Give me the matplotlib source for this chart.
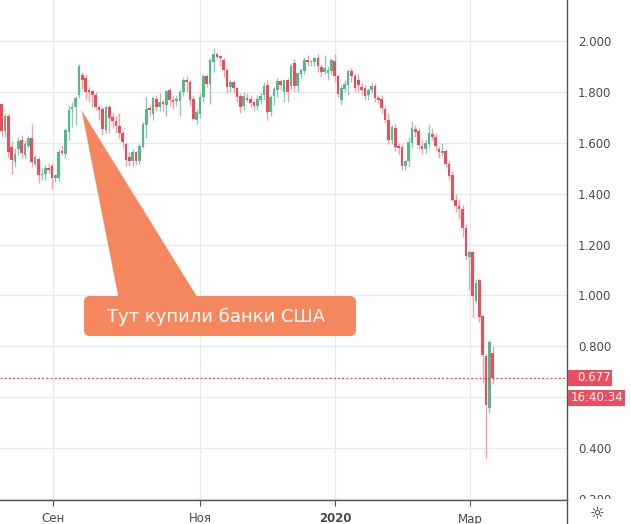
import matplotlib
matplotlib.use("Agg")
import matplotlib.pyplot as plt
from matplotlib.patches import Rectangle, FancyBboxPatch, Polygon
from matplotlib.lines import Line2D
from matplotlib.transforms import Affine2D, Bbox, TransformedBbox
import numpy as np

# daily candles, Aug 2019 - Mar 2020
opens = [1.752, 1.646, 1.705, 1.584, 1.525, 1.576, 1.611, 1.552, 1.587, 1.619,
         1.517, 1.536, 1.473, 1.477, 1.500, 1.510, 1.463, 1.463, 1.567, 1.555,
         1.644, 1.735, 1.742, 1.788, 1.867, 1.856, 1.807, 1.803, 1.790, 1.742,
         1.735, 1.650, 1.742, 1.703, 1.688, 1.668, 1.638, 1.597, 1.544, 1.529,
         1.564, 1.529, 1.585, 1.670, 1.738, 1.713, 1.775, 1.742, 1.761, 1.748,
         1.807, 1.771, 1.765, 1.765, 1.801, 1.849, 1.840, 1.775, 1.690, 1.716,
         1.781, 1.862, 1.834, 1.919, 1.949, 1.941, 1.925, 1.889, 1.820, 1.842,
         1.818, 1.787, 1.744, 1.779, 1.775, 1.761, 1.744, 1.771, 1.788, 1.827,
         1.722, 1.784, 1.808, 1.844, 1.801, 1.847, 1.823, 1.915, 1.823, 1.870,
         1.883, 1.925, 1.919, 1.919, 1.936, 1.899, 1.879, 1.875, 1.883, 1.922,
         1.862, 1.771, 1.814, 1.827, 1.883, 1.862, 1.849, 1.820, 1.818, 1.788,
         1.807, 1.823, 1.777, 1.775, 1.735, 1.692, 1.613, 1.661, 1.584, 1.584,
         1.509, 1.528, 1.600, 1.657, 1.646, 1.588, 1.575, 1.596, 1.634, 1.624,
         1.578, 1.561, 1.567, 1.516, 1.473, 1.375, 1.351, 1.342, 1.264, 1.153,
         1.171, 0.980, 1.061, 0.919, 0.763, 0.557, 0.773]
highs = [1.758, 1.717, 1.715, 1.607, 1.580, 1.623, 1.630, 1.611, 1.627, 1.674,
         1.552, 1.544, 1.501, 1.513, 1.520, 1.520, 1.480, 1.575, 1.592, 1.660,
         1.750, 1.761, 1.785, 1.912, 1.879, 1.870, 1.820, 1.810, 1.800, 1.750,
         1.745, 1.750, 1.750, 1.720, 1.705, 1.720, 1.650, 1.605, 1.566, 1.578,
         1.570, 1.595, 1.682, 1.780, 1.750, 1.787, 1.790, 1.795, 1.771, 1.810,
         1.815, 1.785, 1.790, 1.810, 1.860, 1.865, 1.850, 1.790, 1.735, 1.795,
         1.870, 1.870, 1.935, 1.975, 1.958, 1.948, 1.935, 1.895, 1.848, 1.850,
         1.822, 1.795, 1.800, 1.795, 1.790, 1.770, 1.790, 1.800, 1.840, 1.850,
         1.790, 1.820, 1.855, 1.850, 1.850, 1.855, 1.910, 1.930, 1.880, 1.895,
         1.940, 1.945, 1.928, 1.940, 1.950, 1.910, 1.945, 1.905, 1.935, 1.950,
         1.870, 1.830, 1.850, 1.890, 1.895, 1.875, 1.870, 1.840, 1.830, 1.815,
         1.840, 1.835, 1.790, 1.790, 1.745, 1.720, 1.670, 1.675, 1.600, 1.595,
         1.535, 1.625, 1.685, 1.670, 1.660, 1.615, 1.615, 1.675, 1.660, 1.640,
         1.590, 1.600, 1.575, 1.530, 1.490, 1.400, 1.380, 1.355, 1.280, 1.180,
         1.175, 1.065, 1.065, 0.925, 0.770, 0.825, 0.800]
lows = [1.623, 1.623, 1.544, 1.477, 1.505, 1.552, 1.540, 1.540, 1.580, 1.505,
        1.509, 1.442, 1.454, 1.454, 1.481, 1.421, 1.445, 1.450, 1.553, 1.540,
        1.610, 1.663, 1.670, 1.777, 1.814, 1.775, 1.760, 1.740, 1.730, 1.690,
        1.630, 1.640, 1.640, 1.660, 1.640, 1.620, 1.580, 1.510, 1.510, 1.510,
        1.515, 1.518, 1.580, 1.620, 1.705, 1.690, 1.725, 1.725, 1.725, 1.705,
        1.745, 1.735, 1.745, 1.705, 1.785, 1.800, 1.745, 1.690, 1.675, 1.700,
        1.760, 1.820, 1.755, 1.880, 1.930, 1.905, 1.860, 1.795, 1.800, 1.795,
        1.760, 1.720, 1.730, 1.760, 1.740, 1.725, 1.730, 1.755, 1.770, 1.690,
        1.705, 1.750, 1.780, 1.810, 1.760, 1.760, 1.810, 1.800, 1.800, 1.855,
        1.870, 1.905, 1.905, 1.905, 1.880, 1.860, 1.870, 1.850, 1.870, 1.840,
        1.780, 1.750, 1.800, 1.790, 1.840, 1.800, 1.800, 1.790, 1.770, 1.770,
        1.795, 1.760, 1.755, 1.720, 1.680, 1.595, 1.595, 1.570, 1.555, 1.495,
        1.495, 1.510, 1.580, 1.625, 1.575, 1.555, 1.560, 1.580, 1.610, 1.570,
        1.540, 1.550, 1.500, 1.455, 1.370, 1.330, 1.300, 1.230, 1.140, 1.020,
        0.917, 0.970, 0.897, 0.655, 0.360, 0.537, 0.650]
closes = [1.646, 1.705, 1.563, 1.532, 1.556, 1.607, 1.560, 1.595, 1.619, 1.525,
          1.544, 1.473, 1.480, 1.502, 1.493, 1.463, 1.473, 1.565, 1.562, 1.650,
          1.729, 1.742, 1.777, 1.902, 1.847, 1.801, 1.801, 1.790, 1.742, 1.729,
          1.654, 1.742, 1.697, 1.686, 1.666, 1.638, 1.605, 1.532, 1.529, 1.564,
          1.529, 1.587, 1.676, 1.735, 1.729, 1.779, 1.742, 1.761, 1.755, 1.804,
          1.768, 1.761, 1.772, 1.801, 1.847, 1.840, 1.768, 1.696, 1.722, 1.781,
          1.862, 1.834, 1.925, 1.949, 1.938, 1.936, 1.889, 1.820, 1.840, 1.816,
          1.781, 1.742, 1.784, 1.771, 1.757, 1.744, 1.775, 1.784, 1.823, 1.722,
          1.781, 1.814, 1.844, 1.827, 1.847, 1.801, 1.903, 1.823, 1.875, 1.888,
          1.925, 1.919, 1.922, 1.936, 1.902, 1.879, 1.896, 1.888, 1.925, 1.862,
          1.794, 1.818, 1.834, 1.883, 1.862, 1.818, 1.828, 1.807, 1.784, 1.810,
          1.823, 1.779, 1.771, 1.739, 1.692, 1.613, 1.663, 1.584, 1.582, 1.509,
          1.528, 1.606, 1.659, 1.643, 1.591, 1.575, 1.600, 1.640, 1.624, 1.588,
          1.565, 1.568, 1.519, 1.470, 1.375, 1.351, 1.342, 1.264, 1.155, 1.173,
          0.998, 1.051, 0.917, 0.767, 0.567, 0.815, 0.677]

month_ticks = [15.3, 59.0, 99.2, 139.2]
month_labels = ["Сен", "Ноя", "2020", "Мар"]
price_ticks = [0.2, 0.4, 0.6, 0.8, 1.0, 1.2, 1.4, 1.6, 1.8, 2.0]
# 0.600 sits under the countdown tag, so it is not shown
price_labels = ["0.200", "0.400", "", "0.800", "1.000", "1.200", "1.400", "1.600", "1.800", "2.000"]
last_price = 0.677
countdown = "16:40:34"
note = "Тут купили банки США"

UP, DOWN = "#53b987", "#eb4d5c"
UP_WICK, DOWN_WICK = "#93c3c6", "#f3a0a9"
W, H = 631, 524

fig = plt.figure(figsize=(W / 100, H / 100), dpi=100)
ax = fig.add_axes([0, 24 / H, 567 / W, 1 - 24 / H])

o = np.array(opens)
c = np.array(closes)
x = np.arange(len(o))
up = c >= o
body_lo = np.minimum(o, c)
body_h = np.maximum(np.abs(c - o), 0.005)

ax.vlines(x, lows, highs, colors=np.where(up, UP_WICK, DOWN_WICK), linewidth=1, zorder=2)
ax.bar(x, body_h, bottom=body_lo, width=0.78, color=np.where(up, UP, DOWN),
       linewidth=0, zorder=3)

ax.axhline(last_price, color=DOWN, lw=1, ls=(0, (1.5, 1.5)), zorder=4)

ax.set_xlim(-0.45, 168.05)
ax.set_ylim(0.195, 2.163)
ax.set_xticks(month_ticks, month_labels)
ax.set_yticks(price_ticks, price_labels)
ax.grid(True, color="#e3ebf0", lw=1, zorder=0)
ax.set_axisbelow(True)

ax.yaxis.tick_right()
ax.tick_params(axis="y", length=0, pad=8, labelsize=8.5, labelcolor="#4a4a4a")
ax.tick_params(axis="x", length=4, color="#50535e", pad=5, labelsize=8.5, labelcolor="#4a4a4a")
ax.get_xticklabels()[2].set_fontweight("bold")

for s in ["top", "left"]:
    ax.spines[s].set_visible(False)
for s in ["right", "bottom"]:
    ax.spines[s].set_color("#50535e")
    ax.spines[s].set_linewidth(1)

# hide the lower part of the 0.200 label behind the time axis
clip = TransformedBbox(Bbox([[0, 25.5 / H], [1, 1]]), fig.transFigure)
for lbl in ax.get_yticklabels():
    lbl.set_clip_box(clip)
    lbl.set_clip_on(True)

# separator below the price scale and settings icon
fig.add_artist(Line2D([567 / W, 567 / W], [0, 24 / H], color="#50535e", lw=1))
fig.text(597 / W, 1 - 514 / H, "☼", ha="center", va="center", fontsize=12, color="#333333")

# last price and countdown tags
px = Affine2D().scale(1 / 100, -1 / 100).translate(0, H / 100) + fig.dpi_scale_trans
y_last = H - ax.transData.transform((0, last_price))[1]
fig.add_artist(Rectangle((568, y_last - 8), 44, 16, transform=px, color=DOWN, lw=0))
fig.text(577, y_last, f"{last_price:.3f}", transform=px, ha="left", va="center",
         fontsize=8.5, color="white")
fig.add_artist(Rectangle((568, y_last + 12), 57, 16, transform=px, color=DOWN, lw=0))
fig.text(571, y_last + 20, countdown, transform=px, ha="left", va="center",
         fontsize=8.5, color="white")

# callout
orange = "#f5875f"
fig.add_artist(Polygon([(81.5, 110), (119, 300), (199, 300)], closed=True,
                       transform=px, color=orange, lw=0))
fig.add_artist(FancyBboxPatch((84, 296), 272, 40, boxstyle="round,pad=0,rounding_size=6",
                              transform=px, color=orange, lw=0))
fig.text(216, 317, note, transform=px, ha="center", va="center", fontsize=13, color="white")

fig.savefig("out.png", dpi=100)
